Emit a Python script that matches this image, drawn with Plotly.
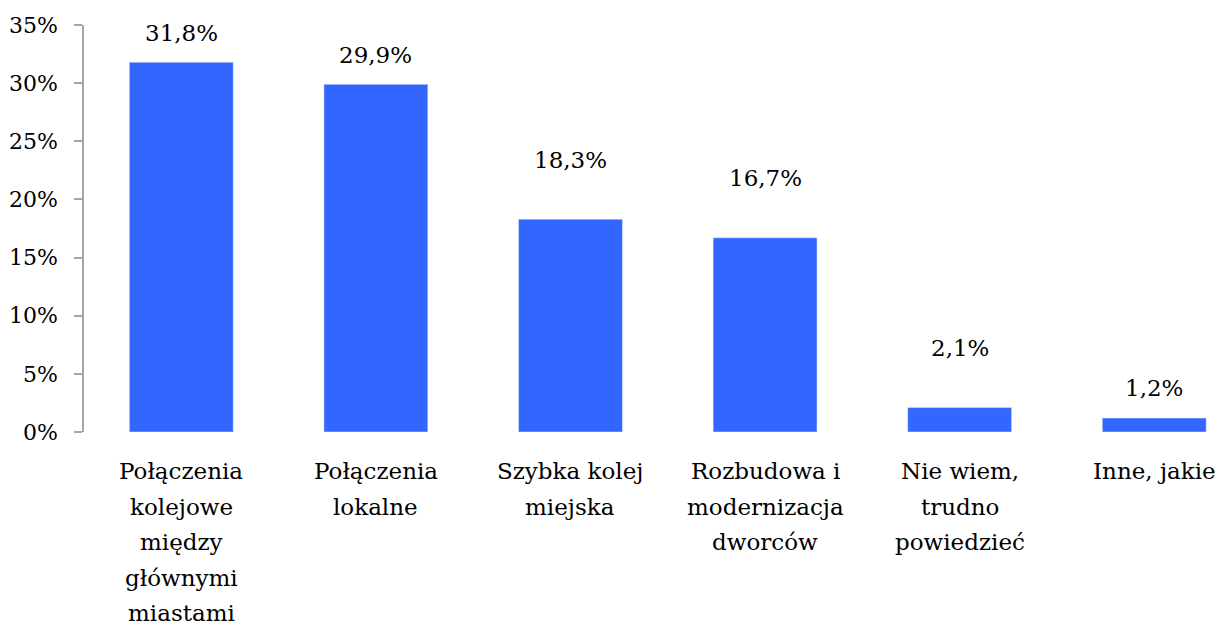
import plotly.graph_objects as go

categories = [
    "Połączenia<br>kolejowe<br>między<br>głównymi<br>miastami",
    "Połączenia<br>lokalne",
    "Szybka kolej<br>miejska",
    "Rozbudowa i<br>modernizacja<br>dworców",
    "Nie wiem,<br>trudno<br>powiedzieć",
    "Inne, jakie",
]
values = [31.8, 29.9, 18.3, 16.7, 2.1, 1.2]
value_labels = ["31,8%", "29,9%", "18,3%", "16,7%", "2,1%", "1,2%"]
label_shift = [29, 29, 59, 60, 60, 30]
y_ticks = [0, 5, 10, 15, 20, 25, 30, 35]
y_tick_text = ["0%", "5%", "10%", "15%", "20%", "25%", "30%", "35%"]

FONT = "DejaVu Serif"
FS = 23
x_idx = list(range(len(categories)))

fig = go.Figure(go.Bar(x=x_idx, y=values, marker_color="#3366FF", hoverinfo="skip"))

annotations = []
for i, (v, t, s) in enumerate(zip(values, value_labels, label_shift)):
    annotations.append(dict(x=i, y=v, xref="x", yref="y", text=t, showarrow=False,
                            yshift=s, font=dict(family=FONT, size=FS, color="#000")))
for i, c in enumerate(categories):
    for j, line in enumerate(c.split("<br>")):
        annotations.append(dict(x=i, y=0, xref="x", yref="paper", text=line, showarrow=False,
                                yshift=-(39 + j * 35.5), yanchor="middle", borderpad=0,
                                font=dict(family=FONT, size=FS, color="#000")))

fig.update_layout(
    width=1221, height=626,
    margin=dict(l=84, r=0, t=25, b=194),
    paper_bgcolor="white", plot_bgcolor="white",
    bargap=0.466,
    showlegend=False,
    annotations=annotations,
    xaxis=dict(range=[-0.5, 5.343], showticklabels=False, showline=False, showgrid=False,
               zeroline=False, ticks=""),
    yaxis=dict(range=[0, 35], tickvals=y_ticks, ticktext=y_tick_text, showgrid=False,
               zeroline=False, showline=True, linecolor="#A6A6A6", linewidth=1.5,
               ticks="outside", ticklen=8, tickcolor="#A6A6A6", tickwidth=1.5,
               ticklabelstandoff=12,
               tickfont=dict(family=FONT, size=22, color="#000")),
)

fig.write_html("out.html")
